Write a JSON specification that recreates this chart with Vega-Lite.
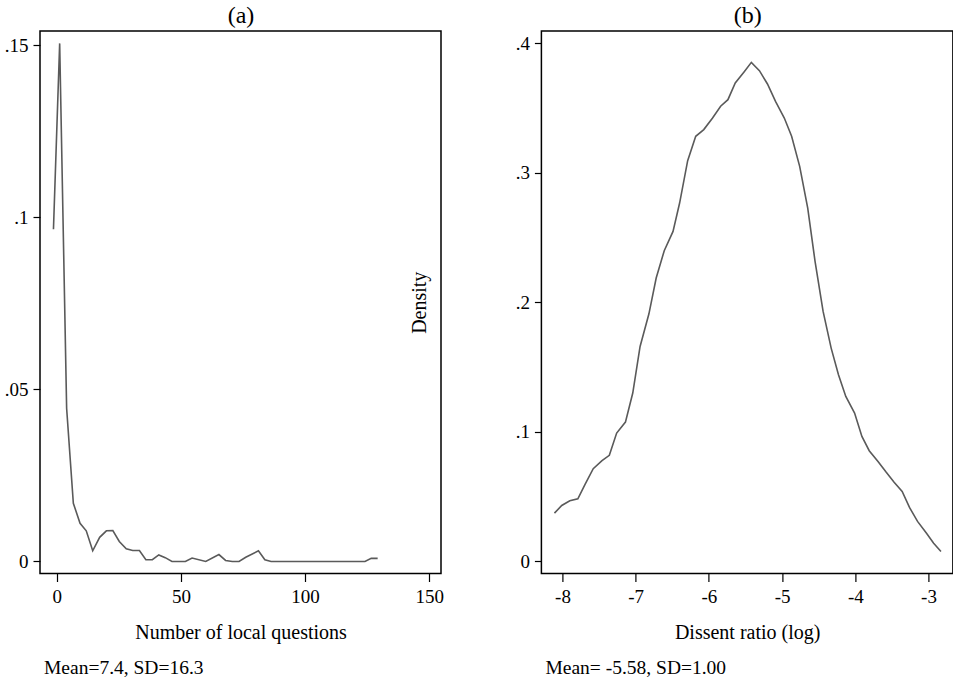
{
  "$schema": "https://vega.github.io/schema/vega-lite/v6.json",
  "padding": {"left": 3, "top": 2, "right": 1, "bottom": 5},
  "background": "white",
  "config": {
    "font": "Liberation Serif",
    "view": {"stroke": "black", "strokeWidth": 1.5},
    "axis": {
      "labelFont": "Liberation Serif", "labelFontSize": 19, "labelColor": "black",
      "titleFont": "Liberation Serif", "titleFontSize": 20, "titleFontWeight": "normal", "titleColor": "black",
      "tickColor": "black", "tickWidth": 1.2, "domain": false, "grid": false
    },
    "axisX": {"tickSize": 8, "labelPadding": 6, "titlePadding": 16},
    "axisY": {"tickSize": 7, "labelPadding": 5},
    "title": {"font": "Liberation Serif", "fontSize": 19.5, "fontWeight": "normal", "color": "black"}
  },
  "bounds": "flush",
  "spacing": 100.4,
  "hconcat": [
    {
      "width": 401,
      "height": 542.5,
      "title": {"text": "Mean=7.4, SD=16.3", "orient": "bottom", "anchor": "start", "frame": "group", "dx": 4, "offset": 16},
      "data": {"values": [
        {"q": -1.3, "d": 0.0965}, {"q": 1.2, "d": 0.1505}, {"q": 4.0, "d": 0.0445}, {"q": 6.7, "d": 0.0169},
        {"q": 9.4, "d": 0.0111}, {"q": 11.9, "d": 0.0089}, {"q": 14.5, "d": 0.0031}, {"q": 17.3, "d": 0.0070},
        {"q": 20.0, "d": 0.0089}, {"q": 22.6, "d": 0.0090}, {"q": 25.2, "d": 0.0058}, {"q": 28.0, "d": 0.0037},
        {"q": 30.6, "d": 0.0032}, {"q": 33.3, "d": 0.0032}, {"q": 35.9, "d": 0.0005}, {"q": 38.5, "d": 0.0005},
        {"q": 41.1, "d": 0.0019}, {"q": 43.7, "d": 0.0011}, {"q": 46.4, "d": 0.0}, {"q": 51.8, "d": 0.0},
        {"q": 54.5, "d": 0.0010}, {"q": 60.0, "d": 0.0}, {"q": 65.3, "d": 0.0020}, {"q": 68.0, "d": 0.0003},
        {"q": 70.7, "d": 0.0}, {"q": 73.4, "d": 0.0}, {"q": 76.1, "d": 0.0012}, {"q": 81.2, "d": 0.0031},
        {"q": 83.8, "d": 0.0005}, {"q": 86.3, "d": 0.0}, {"q": 124.1, "d": 0.0}, {"q": 126.6, "d": 0.0009},
        {"q": 129.2, "d": 0.0009}
      ]},
      "layer": [
        {
          "mark": {"type": "line", "color": "#5a5a5a", "strokeWidth": 1.6},
          "encoding": {
            "x": {"field": "q", "type": "quantitative",
                  "scale": {"domain": [-6.72, 154.7], "nice": false, "zero": false},
                  "axis": {"values": [0, 50, 100, 150], "labelExpr": "'' + datum.value", "title": "Number of local questions"}},
            "y": {"field": "d", "type": "quantitative",
                  "scale": {"domain": [-0.0035, 0.1541], "nice": false, "zero": false},
                  "axis": {"values": [0, 0.05, 0.1, 0.15], "labelExpr": "datum.value == 0 ? '0' : replace('' + datum.value, '0.', '.')", "title": null}}
          }
        },
        {
          "mark": {"type": "line", "opacity": 0},
          "encoding": {
            "x": {"field": "q", "type": "quantitative",
                  "axis": {"orient": "top", "title": "(a)", "titleFontSize": 24, "titlePadding": 4, "labels": false, "ticks": false, "domain": false}},
            "y": {"field": "d", "type": "quantitative"}
          }
        }
      ],
      "resolve": {"axis": {"x": "independent"}}
    },
    {
      "width": 411.5,
      "height": 542.5,
      "title": {"text": "Mean= -5.58, SD=1.00", "orient": "bottom", "anchor": "start", "frame": "group", "dx": 4, "offset": 16},
      "data": {"values": [
        {"r": -8.11, "d": 0.0373}, {"r": -8.01, "d": 0.0432}, {"r": -7.90, "d": 0.0469}, {"r": -7.79, "d": 0.0484},
        {"r": -7.69, "d": 0.0597}, {"r": -7.58, "d": 0.0716}, {"r": -7.46, "d": 0.0778}, {"r": -7.36, "d": 0.0819},
        {"r": -7.26, "d": 0.0991}, {"r": -7.14, "d": 0.1076}, {"r": -7.04, "d": 0.1300}, {"r": -6.94, "d": 0.1660},
        {"r": -6.82, "d": 0.1910}, {"r": -6.72, "d": 0.2188}, {"r": -6.61, "d": 0.2399}, {"r": -6.49, "d": 0.2548},
        {"r": -6.40, "d": 0.2767}, {"r": -6.29, "d": 0.3094}, {"r": -6.18, "d": 0.3282}, {"r": -6.07, "d": 0.3334},
        {"r": -5.95, "d": 0.3423}, {"r": -5.84, "d": 0.3514}, {"r": -5.74, "d": 0.3565}, {"r": -5.64, "d": 0.3694},
        {"r": -5.52, "d": 0.3779}, {"r": -5.42, "d": 0.3853}, {"r": -5.31, "d": 0.3789}, {"r": -5.20, "d": 0.3686},
        {"r": -5.09, "d": 0.3552}, {"r": -4.97, "d": 0.3423}, {"r": -4.87, "d": 0.3282}, {"r": -4.76, "d": 0.3050},
        {"r": -4.65, "d": 0.2728}, {"r": -4.55, "d": 0.2317}, {"r": -4.44, "d": 0.1930}, {"r": -4.33, "d": 0.1647},
        {"r": -4.23, "d": 0.1442}, {"r": -4.13, "d": 0.1274}, {"r": -4.01, "d": 0.1145}, {"r": -3.91, "d": 0.0965},
        {"r": -3.81, "d": 0.0855}, {"r": -3.69, "d": 0.0772}, {"r": -3.58, "d": 0.0690}, {"r": -3.47, "d": 0.0612},
        {"r": -3.36, "d": 0.0541}, {"r": -3.26, "d": 0.0417}, {"r": -3.15, "d": 0.0309}, {"r": -3.03, "d": 0.0219},
        {"r": -2.93, "d": 0.0141}, {"r": -2.83, "d": 0.0077}
      ]},
      "layer": [
        {
          "mark": {"type": "line", "color": "#5a5a5a", "strokeWidth": 1.6},
          "encoding": {
            "x": {"field": "r", "type": "quantitative",
                  "scale": {"domain": [-8.288, -2.667], "nice": false, "zero": false},
                  "axis": {"values": [-8, -7, -6, -5, -4, -3], "labelExpr": "'' + datum.value", "title": "Dissent ratio (log)"}},
            "y": {"field": "d", "type": "quantitative",
                  "scale": {"domain": [-0.0093, 0.4095], "nice": false, "zero": false},
                  "axis": {"values": [0, 0.1, 0.2, 0.3, 0.4], "labelExpr": "datum.value == 0 ? '0' : replace('' + datum.value, '0.', '.')",
                           "title": "Density", "titleX": -116.4, "titleBaseline": "alphabetic", "titleAngle": 270}}
          }
        },
        {
          "mark": {"type": "line", "opacity": 0},
          "encoding": {
            "x": {"field": "r", "type": "quantitative",
                  "axis": {"orient": "top", "title": "(b)", "titleFontSize": 24, "titlePadding": 4, "labels": false, "ticks": false, "domain": false}},
            "y": {"field": "d", "type": "quantitative"}
          }
        }
      ],
      "resolve": {"axis": {"x": "independent"}}
    }
  ]
}
